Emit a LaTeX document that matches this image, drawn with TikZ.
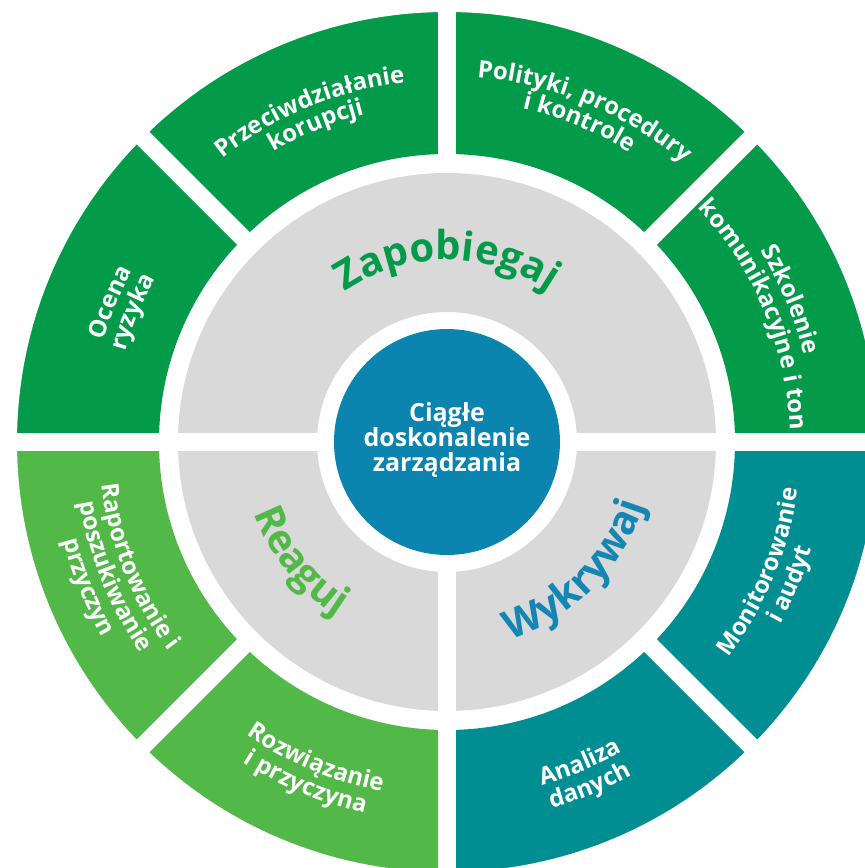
\documentclass[tikz,border=0pt]{standalone}
\usepackage{fontspec}
\setmainfont{Open Sans}
\usetikzlibrary{decorations.text}
\definecolor{dgreen}{RGB}{3,155,74}
\definecolor{lgreen}{RGB}{82,184,72}
\definecolor{tealseg}{RGB}{1,142,147}
\definecolor{ringgrey}{RGB}{217,217,217}
\definecolor{cblue}{RGB}{11,132,176}
\definecolor{wblue}{RGB}{20,134,180}
\newcommand\olabfont{\fontsize{24}{24}\selectfont\bfseries}
\newcommand\glabfont{\fontsize{40}{40}\selectfont\bfseries}
\newcommand\cfont{\fontsize{25}{25}\selectfont\bfseries}
\tikzset{
  olab/.style={decorate, decoration={text along path, text align=center, text color=white, text={|\olabfont|#1}}},
  glab/.style n args={2}{decorate, decoration={text along path, text align=center, text color=#1, text={|\glabfont|#2}}},
  gap/.style={draw=white, line width=18pt},
}
\begin{document}
\begin{tikzpicture}[x=1pt,y=1pt]
\useasboundingbox (-447,-426) rectangle (418,442);
\clip (-447,-426) rectangle (418,442);
% outer ring
\fill[dgreen] (0:288pt) -- (0:450pt) arc[start angle=0, end angle=180, radius=450pt] -- (180:288pt) arc[start angle=180, end angle=0, radius=288pt] -- cycle;
\fill[lgreen] (180:288pt) -- (180:450pt) arc[start angle=180, end angle=270, radius=450pt] -- (270:288pt) arc[start angle=270, end angle=180, radius=288pt] -- cycle;
\fill[tealseg] (270:288pt) -- (270:450pt) arc[start angle=270, end angle=360, radius=450pt] -- (0:288pt) arc[start angle=360, end angle=270, radius=288pt] -- cycle;
% clip outer circle radius 430
\fill[white, even odd rule] (0,0) circle (430pt) (-500,-500) rectangle (500,500);
% grey ring
\fill[ringgrey, even odd rule] (0,0) circle (269pt) (0,0) circle (130pt);
% centre
\fill[cblue] (0,0) circle (113pt);
% gaps
\draw[gap] (180:122pt) -- (180:440pt);
\draw[gap] (0:122pt) -- (0:440pt);
\draw[gap] (270:122pt) -- (270:440pt);
\draw[gap] (90:280pt) -- (90:440pt);
\draw[gap] (45:280pt) -- (45:440pt);
\draw[gap] (135:280pt) -- (135:440pt);
\draw[gap] (225:280pt) -- (225:440pt);
\draw[gap] (315:280pt) -- (315:440pt);
% centre text
\node[text=white, align=center, font=\cfont] (centre) at (0,1.5) {Ciągłe\\doskonalenie\\zarządzania};
% grey ring labels
\path[glab={dgreen}{Zapobiegaj}] (160:182pt) arc[start angle=160, end angle=20, radius=182pt];
\path[glab={lgreen}{Reaguj}] (159:206pt) arc[start angle=159, end angle=279, radius=206pt];
\path[glab={wblue}{Wykrywaj}] (255:207pt) arc[start angle=255, end angle=375, radius=207pt];
% upper outer labels (clockwise)
\path[olab={Ocena}] (217.5:358pt) arc[start angle=217.5, end angle=97.5, radius=358pt];
\path[olab={ryzyka}] (217.5:334pt) arc[start angle=217.5, end angle=97.5, radius=334pt];
\path[olab={Przeciwdziałanie}] (172.5:362pt) arc[start angle=172.5, end angle=52.5, radius=362pt];
\path[olab={korupcji}] (172.5:338pt) arc[start angle=172.5, end angle=52.5, radius=338pt];
\path[olab={Polityki, procedury}] (127.5:366pt) arc[start angle=127.5, end angle=7.5, radius=366pt];
\path[olab={i kontrole}] (127.5:342pt) arc[start angle=127.5, end angle=7.5, radius=342pt];
\path[olab={Szkolenie}] (82.5:367pt) arc[start angle=82.5, end angle=-37.5, radius=367pt];
\path[olab={komunikacyjne i ton}] (82.5:343pt) arc[start angle=82.5, end angle=-37.5, radius=343pt];
% lower outer labels (counter-clockwise)
\path[olab={Raportowanie i}] (142:348pt) arc[start angle=142, end angle=262, radius=348pt];
\path[olab={poszukiwanie}] (142:372pt) arc[start angle=142, end angle=262, radius=372pt];
\path[olab={przyczyn}] (142:396pt) arc[start angle=142, end angle=262, radius=396pt];
\path[olab={Rozwiązanie}] (187.5:355pt) arc[start angle=187.5, end angle=307.5, radius=355pt];
\path[olab={i przyczyna}] (187.5:380pt) arc[start angle=187.5, end angle=307.5, radius=380pt];
\path[olab={Analiza}] (232.5:356pt) arc[start angle=232.5, end angle=352.5, radius=356pt];
\path[olab={danych}] (232.5:381pt) arc[start angle=232.5, end angle=352.5, radius=381pt];
\path[olab={Monitorowanie}] (277.5:354pt) arc[start angle=277.5, end angle=397.5, radius=354pt];
\path[olab={i audyt}] (277.5:380pt) arc[start angle=277.5, end angle=397.5, radius=380pt];
\end{tikzpicture}
\end{document}
